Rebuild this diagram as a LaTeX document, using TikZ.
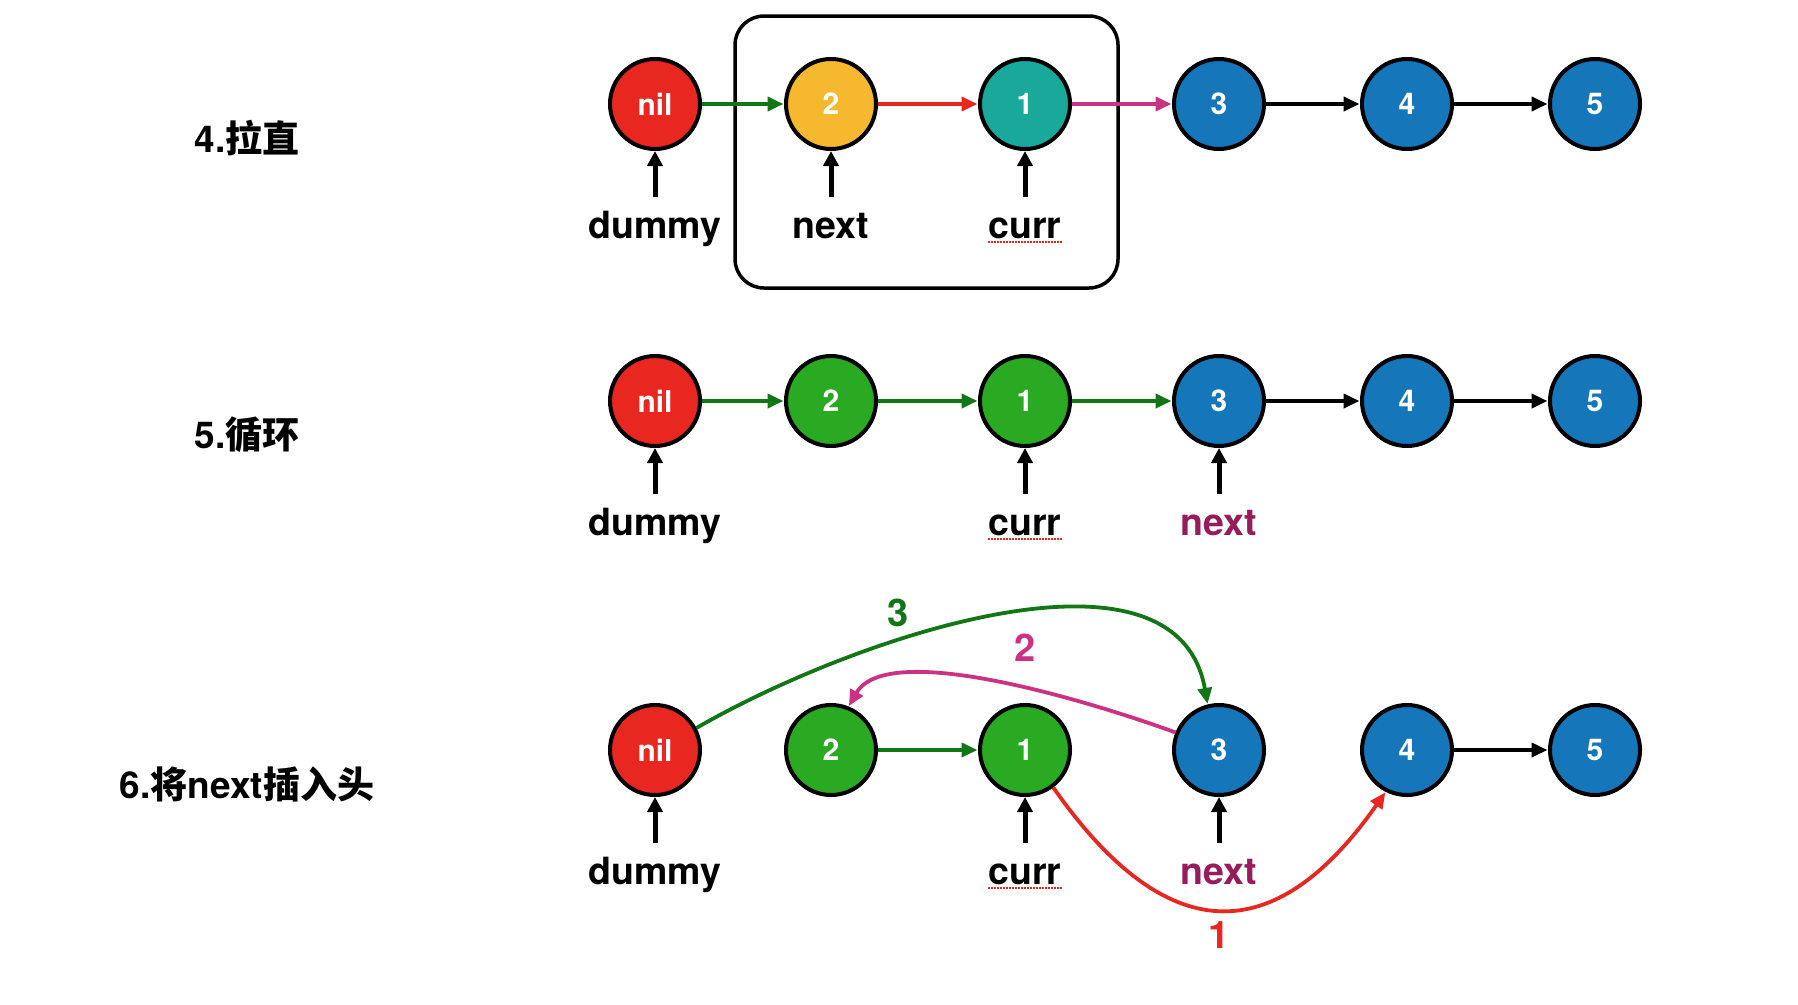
\documentclass[tikz,border=0pt]{standalone}
\usepackage{fontspec}
\setmainfont{TeX Gyre Heros}
\newfontfamily\cjk{Noto Sans CJK SC}
\usetikzlibrary{positioning, arrows.meta}

\definecolor{nilred}{RGB}{233,39,33}
\definecolor{gold}{RGB}{245,184,46}
\definecolor{teal1}{RGB}{26,168,155}
\definecolor{blue1}{RGB}{21,118,186}
\definecolor{grn}{RGB}{42,170,34}
\definecolor{dgreen}{RGB}{18,117,22}
\definecolor{pink1}{RGB}{204,50,130}
\definecolor{plum}{RGB}{150,28,92}

\begin{document}
\begin{tikzpicture}[x=1pt, y=-1pt,
  item/.style  = {circle, draw, line width=4pt, minimum size=90pt, inner sep=0pt, text=white,
                  font=\fontsize{30}{34}\selectfont\bfseries},
  ptr/.style   = {inner sep=0pt, text height=28pt, text depth=8pt, font=\fontsize{37.5}{44}\selectfont\bfseries},
  title/.style = {font=\fontsize{37}{44}\selectfont\bfseries},
  tag/.style   = {font=\fontsize{38}{44}\selectfont\bfseries},
  s/.style     = {shorten >=0.5pt},
  lnk/.style   = {s, line width=3.8pt, -{Triangle[length=16pt, width=14pt]}},
  Bk/.style    = {lnk, black},
  Gr/.style    = {lnk, dgreen},
  Rd/.style    = {lnk, nilred},
  Pk/.style    = {lnk, pink1},
  up/.style    = {line width=5pt, shorten <=13pt, -{Triangle[length=15pt, width=15pt]}},
  squig/.style = {nilred, line width=1.5pt, dash pattern=on 1.5pt off 1.5pt},
  frame/.style = {draw, line width=3.5pt, rounded corners=29pt},
  ]
  \useasboundingbox (0,0) rectangle (1798,1004);

  % Step 4
  \node (t4) at (247,138) [title] {4.{\cjk 拉直}};
  \node (nilA)  at (655,104)  [item, fill=nilred] {nil};
  \node (twoA)  at (831,104)  [item, fill=gold]   {2};
  \node (oneA)  at (1025,104) [item, fill=teal1]  {1};
  \node (thrA)  at (1219,104) [item, fill=blue1]  {3};
  \node (fourA) at (1407,104) [item, fill=blue1]  {4};
  \node (fiveA) at (1595,104) [item, fill=blue1]  {5};
  \node (dumA) [ptr, below=59pt of nilA] {dummy};
  \node (nxtA) [ptr, below=59pt of twoA] {next};
  \node (curA) [ptr, below=59pt of oneA] {curr};
  \draw[frame] (735,16) rectangle (1118,288);

  \draw
  (nilA)  edge [Gr] (twoA)
  (twoA)  edge [Rd] (oneA)
  (oneA)  edge [Pk] (thrA)
  (thrA)  edge [Bk] (fourA)
  (fourA) edge [Bk] (fiveA)
  (dumA)  edge [up] (nilA)
  (nxtA)  edge [up] (twoA)
  (curA)  edge [up] (oneA);
  \draw[squig] ([yshift=-4pt]curA.base west) -- ([yshift=-4pt]curA.base east);

  % Step 5
  \node (t5) at (247,435) [title] {5.{\cjk 循环}};
  \node (nilB)  at (655,401)  [item, fill=nilred] {nil};
  \node (twoB)  at (831,401)  [item, fill=grn]    {2};
  \node (oneB)  at (1025,401) [item, fill=grn]    {1};
  \node (thrB)  at (1219,401) [item, fill=blue1]  {3};
  \node (fourB) at (1407,401) [item, fill=blue1]  {4};
  \node (fiveB) at (1595,401) [item, fill=blue1]  {5};
  \node (dumB) [ptr, below=59pt of nilB] {dummy};
  \node (curB) [ptr, below=59pt of oneB] {curr};
  \node (nxtB) [ptr, below=59pt of thrB, text=plum] {next};

  \draw
  (nilB)  edge [Gr] (twoB)
  (twoB)  edge [Gr] (oneB)
  (oneB)  edge [Gr] (thrB)
  (thrB)  edge [Bk] (fourB)
  (fourB) edge [Bk] (fiveB)
  (dumB)  edge [up] (nilB)
  (curB)  edge [up] (oneB)
  (nxtB)  edge [up] (thrB);
  \draw[squig] ([yshift=-4pt]curB.base west) -- ([yshift=-4pt]curB.base east);

  % Step 6
  \node (t6) at (247,784) [title] {6.{\cjk 将}next{\cjk 插入头}};
  \node (nilC)  at (655,750)  [item, fill=nilred] {nil};
  \node (twoC)  at (831,750)  [item, fill=grn]    {2};
  \node (oneC)  at (1025,750) [item, fill=grn]    {1};
  \node (thrC)  at (1219,750) [item, fill=blue1]  {3};
  \node (fourC) at (1407,750) [item, fill=blue1]  {4};
  \node (fiveC) at (1595,750) [item, fill=blue1]  {5};
  \node (dumC) [ptr, below=59pt of nilC] {dummy};
  \node (curC) [ptr, below=59pt of oneC] {curr};
  \node (nxtC) [ptr, below=59pt of thrC, text=plum] {next};

  \draw
  (twoC)  edge [Gr] (oneC)
  (fourC) edge [Bk] (fiveC)
  (dumC)  edge [up] (nilC)
  (curC)  edge [up] (oneC)
  (nxtC)  edge [up] (thrC);
  \draw[squig] ([yshift=-4pt]curC.base west) -- ([yshift=-4pt]curC.base east);

  % re-linking steps 1, 2, 3
  \draw[Rd] (oneC.-53) to [out=-55, in=235, looseness=1.5] (fourC.243);
  \draw[Pk] (thrC.158) to [out=160, in=60, looseness=0.62] (twoC.68);
  \draw[Gr] (nilC.28) to [out=30, in=100, looseness=0.9] (thrC.104);
  \node (k1) at (1219,935) [tag, text=nilred] {1};
  \node (k2) at (1025,648) [tag, text=pink1]  {2};
  \node (k3) at (898,613)  [tag, text=dgreen] {3};
\end{tikzpicture}
\end{document}
